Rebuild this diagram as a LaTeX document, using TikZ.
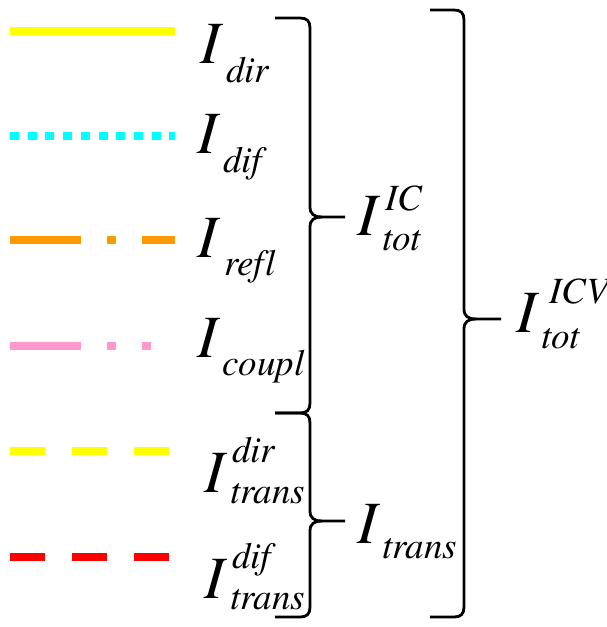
\documentclass[tikz,border=0pt]{standalone}
\usepackage{fontspec}
\newfontfamily\timesit{texgyretermes-italic.otf}[Ligatures=NoCommon]
\begin{document}
\begin{tikzpicture}[x=1pt,y=-1pt,
  bigI/.style={inner sep=0pt,anchor=base west,font=\timesit\fontsize{60}{60}\selectfont},
  smalltxt/.style={inner sep=0pt,anchor=base west,font=\timesit\fontsize{37}{37}\selectfont},
  legline/.style={line width=8pt,line cap=butt},
  bracestyle/.style={line width=2.8pt,line cap=butt,line join=round}]
\useasboundingbox (0,0) rectangle (606,627);
\definecolor{cyellow}{RGB}{255,255,0}
\definecolor{ccyan}{RGB}{0,255,255}
\definecolor{corange}{RGB}{255,153,0}
\definecolor{cpink}{RGB}{255,153,204}
\definecolor{cred}{RGB}{255,0,0}
% legend line ends
\coordinate (a1) at (10,31);  \coordinate (b1) at (175,31);
\coordinate (a2) at (10,136); \coordinate (b2) at (175,136);
\coordinate (a3) at (10,240); \coordinate (b3) at (175,240);
\coordinate (a4) at (10,346); \coordinate (b4) at (175,346);
\coordinate (a5) at (10,451); \coordinate (b5) at (169,451);
\coordinate (a6) at (10,557); \coordinate (b6) at (169,557);
\draw[legline,cyellow] (a1) -- (b1);
\draw[legline,ccyan,dash pattern=on 9pt off 8.7pt] (a2) -- (b2);
\draw[legline,corange,dash pattern=on 71pt off 26pt on 9pt off 26pt] (a3) -- (b3);
\draw[legline,cpink,dash pattern=on 71pt off 26pt on 9pt off 26pt on 9pt off 26pt] (a4) -- (b4);
\draw[legline,cyellow,dash pattern=on 35pt off 27pt] (a5) -- (b5);
\draw[legline,cred,dash pattern=on 35pt off 27pt] (a6) -- (b6);
% labels
\node[bigI] (Idir) at (200,63) {I};
\node[smalltxt] (Idirs) at (226,82) {dir};
\node[bigI] (Idif) at (197,153) {I};
\node[smalltxt] (Idifs) at (223,172) {dif};
\node[bigI] (Irefl) at (197,257) {I};
\node[smalltxt] (Irefls) at (224,275) {refl};
\node[bigI] (Icoupl) at (197,357) {I};
\node[smalltxt] (Icoupls) at (222,375) {coupl};
\node[bigI] (Itd) at (204,492) {I};
\node[smalltxt] (Itdu) at (232,462) {dir};
\node[smalltxt] (Itds) at (230,503) {trans};
\node[bigI] (Itf) at (204,598) {I};
\node[smalltxt] (Itfu) at (232,568) {dif};
\node[smalltxt] (Itfs) at (230,609) {trans};
\node[bigI] (Iic) at (357,235) {I};
\node[smalltxt] (Iicu) at (385,210) {IC};
\node[smalltxt] (Iics) at (382,250) {tot};
\node[bigI] (Itr) at (357,543) {I};
\node[smalltxt] (Itrs) at (382,558) {trans};
\node[bigI] (Iicv) at (516,332) {I};
\node[smalltxt] (Iicvu) at (549,303) {ICV};
\node[smalltxt] (Iicvs) at (541,348) {tot};
% braces
\newcommand\mybrace[6]{%
 \draw[bracestyle] (#1,#4) -- ({#2-10},#4) .. controls ({#2-3},#4) and (#2,{#4+3}) .. (#2,{#4+10})
   -- (#2,{#5-10}) .. controls (#2,{#5-3}) and ({#2+4},#5) .. ({#2+12},#5) -- (#3,#5);
 \draw[bracestyle] ({#2+12},#5) .. controls ({#2+4},#5) and (#2,{#5+3}) .. (#2,{#5+10})
   -- (#2,{#6-10}) .. controls (#2,{#6-3}) and ({#2-3},#6) .. ({#2-10},#6) -- (#1,#6);}
\mybrace{275}{310}{345}{18}{217}{413}
\mybrace{275}{310}{345}{413}{521}{617}
\mybrace{430}{464}{501}{10}{319}{617}
\end{tikzpicture}
\end{document}
